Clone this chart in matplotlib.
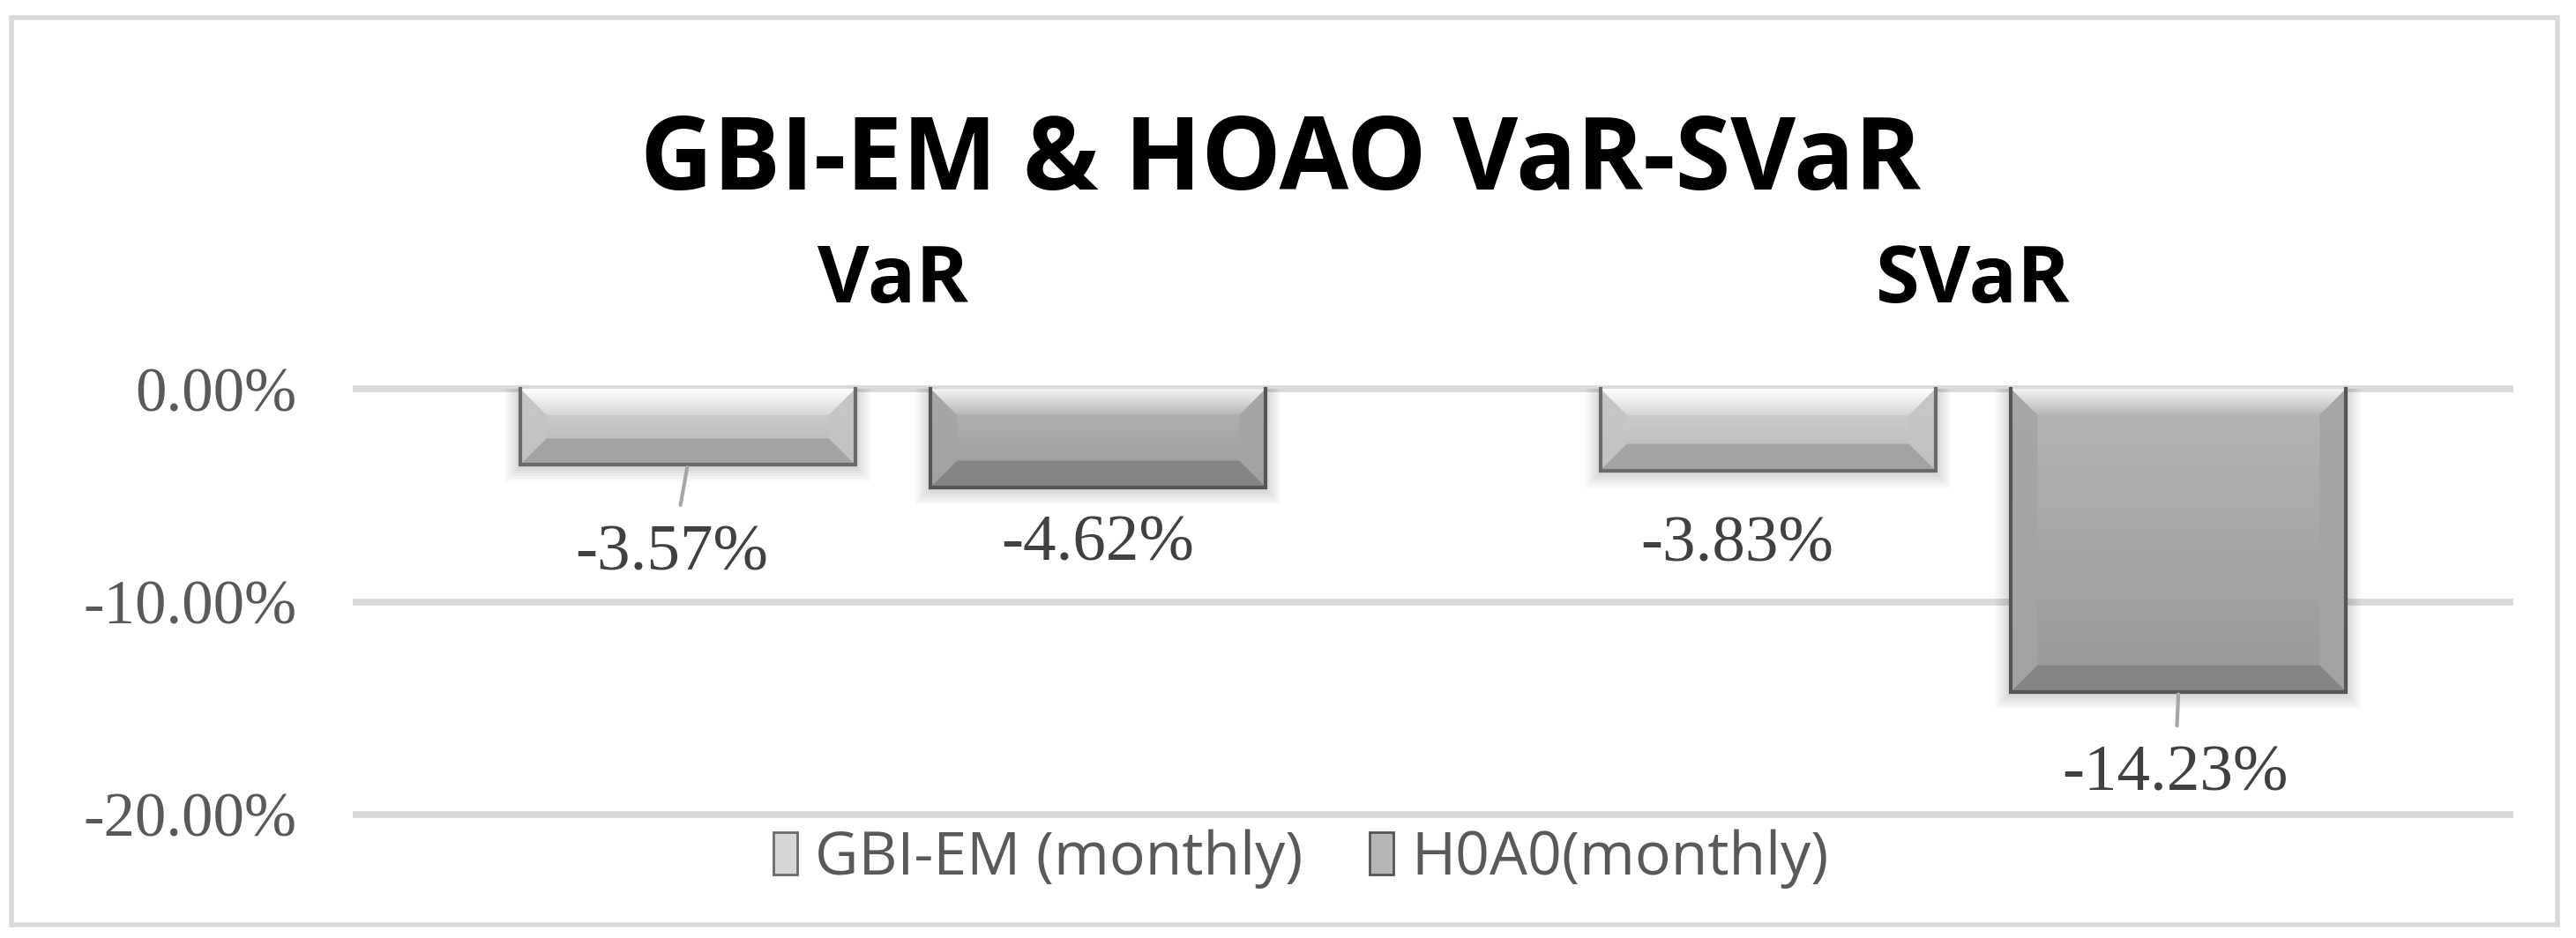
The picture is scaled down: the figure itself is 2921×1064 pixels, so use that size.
import numpy as np
import matplotlib.pyplot as plt
from matplotlib.patches import Rectangle, Polygon
from matplotlib.colors import LinearSegmentedColormap
import matplotlib.transforms as mtransforms

# data
categories = ["VaR", "SVaR"]
series_names = ["GBI-EM (monthly)", "H0A0(monthly)"]
gbi_em = [-0.0357, -0.0383]
h0a0 = [-0.0462, -0.1423]
yticks = [0.0, -0.10, -0.20]

# label offsets (points) for the data labels, and whether a leader line shows
label_offsets = {(0, 0): (-13, -73), (0, 1): (-25, -61),
                 (1, 0): (0, -47), (1, 1): (-3, -68)}
leaders = {(0, 0): True, (0, 1): False, (1, 0): False, (1, 1): True}

# bar looks: body top, body bottom, top highlight, side, bottom bevel, edge
styles = [
    dict(top="#d6d6d6", bot="#b4b4b4", hi="#ffffff", side="#c4c4c4", low="#a3a3a3", edge="#6a6a6a"),
    dict(top="#b6b6b6", bot="#989898", hi="#f4f4f4", side="#a4a4a4", low="#858585", edge="#555555"),
]

W, H = 2921, 1064
fig = plt.figure(figsize=(W / 100, H / 100), dpi=100)
fig.patch.set_facecolor("white")

# chart border
fig.patches.append(Rectangle((13 / W, 1 - 1049 / H), (2900 - 13) / W, (1049 - 20) / H,
                             transform=fig.transFigure, fill=False, ec="#d9d9d9", lw=4))

# plot area: 0% at y=441px, -20% at y=924px
ymin, ymax = -0.205, 0.005
ax = fig.add_axes([400 / W, 1 - 936 / H, 2450 / W, (936 - 429) / H])
ax.set_xlim(-0.5, 1.5)
ax.set_ylim(ymin, ymax)
for s in ax.spines.values():
    s.set_visible(False)
ax.set_yticks(yticks)
ax.set_yticklabels([f"{t * 100:.2f}%" for t in yticks], family="Liberation Serif",
                   fontsize=51, color="#595959")
ax.tick_params(axis="y", length=0, pad=46)
ax.set_xticks([])
ax.yaxis.grid(True, color="#d9d9d9", lw=5.5, zorder=0)
ax.set_axisbelow(True)

px_x = 2450 / 2.0     # pixels per x unit
px_y = 507 / 0.21     # pixels per y unit
bx, by = 30 / px_x, 30 / px_y

x = np.arange(len(categories))
width = 0.31
offs = [-0.19, 0.19]
all_vals = [gbi_em, h0a0]

for si, vals in enumerate(all_vals):
    st = styles[si]
    # soft shadow below the bar
    for k in range(6):
        sx = (2 + k * 3) / px_x
        sy = (4 + k * 3) / px_y
        ax.bar(x + offs[si], np.array(vals) - sy, width + 2 * sx, color="black",
               alpha=0.028, lw=0, zorder=2)
    bars = ax.bar(x + offs[si], vals, width, color=st["bot"], lw=0, zorder=3)
    cmap = LinearSegmentedColormap.from_list("b", [st["top"], st["bot"]])
    hmap = LinearSegmentedColormap.from_list("h", [st["hi"], st["top"]])
    grad = np.linspace(0, 1, 256).reshape(-1, 1)
    for p in bars:
        bb = p.get_bbox()
        x0, x1 = min(bb.x0, bb.x1), max(bb.x0, bb.x1)
        y0, y1 = min(bb.y0, bb.y1), max(bb.y0, bb.y1)   # y0 bottom, y1 top
        im = ax.imshow(grad, extent=[x0, x1, y0, y1], origin="upper", cmap=cmap,
                       aspect="auto", zorder=3.1, interpolation="bilinear")
        im.set_clip_path(p)
        # bevel pieces
        top = Polygon([(x0, y1), (x1, y1), (x1 - bx, y1 - by), (x0 + bx, y1 - by)],
                      closed=True, fc="none", ec="none", zorder=3.2)
        ax.add_patch(top)
        im2 = ax.imshow(grad, extent=[x0, x1, y1 - by, y1], origin="upper", cmap=hmap,
                        aspect="auto", zorder=3.2, interpolation="bilinear")
        im2.set_clip_path(top)
        left = Polygon([(x0, y1), (x0 + bx, y1 - by), (x0 + bx, y0 + by), (x0, y0)],
                       closed=True, fc=st["side"], ec="none", alpha=0.85, zorder=3.3)
        right = Polygon([(x1, y1), (x1 - bx, y1 - by), (x1 - bx, y0 + by), (x1, y0)],
                        closed=True, fc=st["side"], ec="none", alpha=0.85, zorder=3.3)
        bottom = Polygon([(x0, y0), (x0 + bx, y0 + by), (x1 - bx, y0 + by), (x1, y0)],
                         closed=True, fc=st["low"], ec="none", zorder=3.3)
        for pc in (left, right, bottom):
            ax.add_patch(pc)
        ax.plot([x0, x0, x1, x1], [y1, y0, y0, y1], color=st["edge"], lw=3,
                solid_joinstyle="miter", zorder=3.4)

    # data labels
    for ci, v in enumerate(vals):
        dx, dy = label_offsets[(si, ci)]
        kw = {}
        if leaders[(si, ci)]:
            kw["arrowprops"] = dict(arrowstyle="-", color="#a6a6a6", lw=3,
                                    shrinkA=14, shrinkB=2)
        ax.annotate(f"{v * 100:.2f}%", xy=(x[ci] + offs[si], v), xytext=(dx, dy),
                    textcoords="offset points", ha="center", va="center",
                    family="Liberation Serif", fontsize=54, color="#404040",
                    zorder=5, **kw)

ax.set_xlim(-0.5, 1.5)
ax.set_ylim(ymin, ymax)

# category labels above the plot
trans = mtransforms.blended_transform_factory(ax.transData, fig.transFigure)
for ci, c in enumerate(categories):
    ax.text(x[ci], 1 - 320 / H, c, transform=trans, ha="center", va="center",
            family="Open Sans", fontweight="bold", fontsize=65, color="black")

# title
fig.text(0.497, 1 - 186 / H, "GBI-EM & HOAO VaR-SVaR", ha="center", va="center",
         family="Open Sans", fontweight="bold", fontsize=82, color="black")

# legend
handles = [Rectangle((0, 0), 1, 1, fc=styles[i]["top"], ec=styles[i]["edge"], lw=2)
           for i in range(2)]
leg = ax.legend(handles, series_names, loc="center", bbox_to_anchor=(0.505, 1 - 974 / H),
                bbox_transform=fig.transFigure, ncol=2, frameon=False,
                prop={"family": "Open Sans", "size": 49}, labelcolor="#595959",
                handlelength=0.4, handleheight=0.7, handletextpad=0.3,
                columnspacing=1.1)

fig.savefig("out.png", dpi=100, facecolor="white")
